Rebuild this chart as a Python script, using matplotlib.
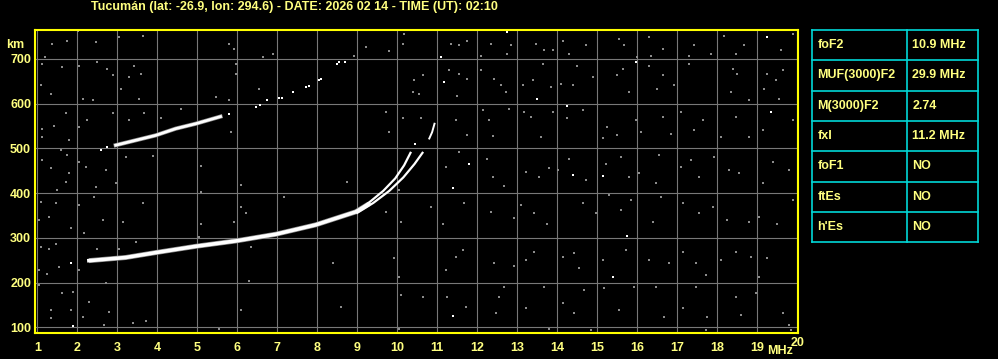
import matplotlib
matplotlib.use("Agg")
import matplotlib.pyplot as plt

plt.rcParams['font.family'] = ['Liberation Sans', 'DejaVu Sans']
plt.rcParams['font.weight'] = 'bold'

TXT = "#ffff80"
BORDER = "#ffff00"
GRID = "#787878"
NOISE = "#8c8c8c"
CYAN = "#00d8d8"

title = "Tucumán (lat: -26.9, lon: 294.6) - DATE: 2026 02 14 - TIME (UT): 02:10"

# ordinary trace (low part + the two branches near the cusp)
f_low = [2.29, 3.21, 3.96, 4.96, 5.96, 6.96, 7.96, 8.96, 9.29]
h_low = [249, 256, 267, 281, 293, 308, 329, 358, 376]
f_br1 = [9.0, 9.35, 9.65, 9.95, 10.17, 10.33]
h_br1 = [358, 383, 405, 433, 462, 490]
f_br2 = [9.0, 9.4, 9.8, 10.15, 10.43, 10.63]
h_br2 = [356, 378, 405, 435, 465, 490]
f_br2_top = [10.8, 10.87, 10.93]
h_br2_top = [522, 536, 555]

# second hop
f_hop = [2.96, 3.46, 3.96, 4.46, 4.96, 5.58]
h_hop = [507, 518, 529, 544, 555, 571]
f_hop_dots = [2.58, 2.75, 5.79, 6.46, 6.56, 6.75, 7.04, 7.12, 7.38, 7.71, 7.8, 8.04, 8.1, 8.5, 8.55, 8.69, 10.43]
h_hop_dots = [497, 502, 576, 592, 596, 607, 612, 613, 626, 638, 640, 653, 656, 689, 692, 694, 509]

# scattered echoes
noise_f = [
    11.33, 11.54, 11.75, 12.08, 12.33, 12.73, 12.83, 13.46, 13.67, 13.88, 14.13, 14.29, 14.71, 15.54, 15.67, 16.0,
    16.29, 16.33, 16.63, 17.42, 17.29, 17.83, 18.17, 18.46, 18.67, 19.58, 19.88,
    11.29, 11.54, 11.75, 11.5, 10.63, 10.53, 12.08, 12.58, 12.42, 12.71, 13.13, 13.38, 13.63, 13.83, 14.08, 14.5,
    14.38, 14.88, 15.5, 15.63, 15.79, 16.29, 16.5, 16.63, 16.92, 17.29, 18.38, 18.5, 18.33, 18.79, 19.25, 19.46,
    19.63, 19.17, 19.54,
    10.58, 11.46, 11.75, 12.13, 12.29, 12.38, 12.79, 13.17, 13.33, 13.58, 13.88, 14.25, 14.63, 15.25, 15.13, 15.5,
    15.96, 16.08, 16.63, 16.83, 17.08, 17.42, 17.63, 18.08, 18.46, 18.79, 19.13, 19.88,
    11.21, 11.54, 12.25, 12.38, 12.67, 13.21, 13.54, 13.79, 14.02, 14.29, 14.71, 15.21, 15.58, 15.79, 16.04, 16.54,
    16.46, 17.08, 17.33, 17.54, 17.92, 18.29, 18.54, 19.38, 19.79, 19.13,
    10.83, 11.13, 11.67, 12.33, 12.92, 13.08, 13.42, 13.75, 14.63, 14.96, 15.29, 15.58, 15.83, 16.38, 16.58, 17.13,
    17.54, 17.88, 18.25, 18.79, 19.04, 19.5, 19.88,
    11.21, 11.46, 11.63, 12.42, 12.92, 13.21, 13.42, 14.13, 14.42, 14.54, 15.13, 15.71, 16.29, 16.79, 17.13, 17.46,
    17.71, 18.08, 18.46, 18.83, 19.04, 19.25,
    10.63, 11.25, 11.71, 12.54, 12.67, 12.46, 13.21, 13.67, 14.13, 14.42, 14.67, 15.17, 15.54, 15.92, 16.46, 16.67,
    17.13, 17.46, 17.75, 18.46, 18.58, 18.96, 19.63, 19.79, 13.79, 14.83, 17.71, 19.83,
    1.38, 1.75, 2.02, 2.46, 3.04, 3.63, 5.79, 5.92, 6.63, 6.88, 9.21, 9.79, 10.13, 10.17, 8.92, 1.19,
    1.13, 1.63, 2.5, 2.75, 2.88, 3.42, 3.58, 2.04, 1.33, 1.08, 3.29, 3.08, 2.38, 2.13, 3.54, 5.96, 5.96, 5.79,
    6.54, 10.42, 10.38,
    1.42, 1.13, 1.71, 2.25, 2.04, 2.88, 3.29, 3.67, 4.08, 4.58, 1.13, 1.79, 5.46, 5.83, 9.71, 9.79, 10.13,
    1.13, 1.58, 1.75, 2.04, 2.21, 1.33, 1.79, 1.71, 2.71, 2.96, 2.46, 1.5, 3.21, 3.88, 5.08, 6.08, 8.75, 10.04,
    1.08, 1.46, 2.04, 2.42, 1.04, 1.29, 1.83, 2.17, 2.63, 3.13, 3.63, 5.08, 5.08, 5.92, 6.08, 6.21, 7.17, 9.71, 10.08,
    1.08, 1.29, 1.46, 1.54, 1.25, 1.04, 2.04, 2.5, 3.04, 3.46, 5.04, 6.33, 6.29, 8.38, 9.92, 10.04,
    1.04, 1.63, 1.88, 2.29, 1.33, 1.83, 2.13, 1.33, 2.71, 2.79, 3.38, 3.71, 6.08, 8.58, 10.08, 2.67, 5.54, 10.04,
]
noise_h = [
    733, 730, 741, 707, 733, 711, 730, 733, 719, 719, 741, 711, 730, 745, 730, 704,
    748, 707, 722, 730, 707, 711, 752, 711, 730, 719, 756,
    674, 667, 655, 618, 663, 622, 674, 641, 655, 626, 641, 652, 689, 637, 644, 685,
    641, 659, 663, 678, 626, 685, 633, 663, 641, 689, 678, 667, 626, 607, 667, 652,
    674, 633, 611,
    567, 563, 529, 585, 563, 527, 589, 581, 570, 526, 581, 567, 585, 548, 522, 529,
    563, 537, 570, 533, 581, 541, 563, 526, 570, 526, 541, 563,
    458, 492, 477, 437, 415, 448, 437, 455, 452, 477, 429, 465, 480, 437, 444, 484,
    422, 458, 473, 437, 480, 451, 444, 470, 451, 422,
    369, 332, 377, 358, 344, 373, 355, 332, 377, 355, 396, 362, 384, 336, 392, 377,
    355, 369, 340, 336, 347, 332, 384,
    228, 258, 273, 243, 236, 250, 269, 258, 265, 232, 250, 273, 250, 243, 269, 243,
    217, 250, 269, 258, 213, 254,
    168, 168, 146, 168, 191, 131, 143, 191, 154, 131, 183, 187, 139, 191, 191, 124,
    143, 191, 124, 168, 128, 176, 131, 105, 96, 95, 94, 95,
    733, 741, 762, 737, 748, 752, 733, 722, 704, 711, 726, 717, 733, 756, 707, 704,
    689, 681, 693, 678, 663, 685, 667, 685, 622, 641, 659, 633, 607, 611, 611, 689, 667, 607,
    633, 652, 626,
    551, 544, 578, 563, 548, 578, 563, 578, 567, 589, 526, 518, 615, 537, 581, 537, 567,
    473, 496, 485, 470, 458, 455, 444, 425, 451, 422, 414, 407, 481, 482, 460, 418, 425, 407,
    380, 377, 373, 392, 340, 347, 321, 310, 340, 336, 377, 403, 332, 336, 369, 355, 392, 358, 336,
    280, 276, 287, 235, 220, 228, 228, 276, 276, 291, 302, 280, 204, 243, 254, 213,
    195, 176, 180, 157, 139, 139, 124, 120, 198, 135, 109, 113, 139, 146, 172, 105, 96, 96,
]
white_f = [11.08, 11.17, 13.48, 12.73, 15.96, 14.23, 19.33, 11.38, 11.78, 14.38, 15.13, 15.73, 15.38, 11.38, 19.23, 1.88, 1.83]
white_h = [704, 648, 611, 761, 693, 594, 581, 411, 465, 440, 439, 303, 213, 125, 748, 104, 243]

table_rows = [("foF2", "10.9 MHz"), ("MUF(3000)F2", "29.9 MHz"), ("M(3000)F2", "2.74"),
              ("fxI", "11.2 MHz"), ("foF1", "NO"), ("ftEs", "NO"), ("h'Es", "NO")]

W, H = 998, 359
fig = plt.figure(figsize=(W / 100, H / 100), dpi=100, facecolor="black")


def px(x0, y0, x1, y1):
    return [x0 / W, 1 - y1 / H, (x1 - x0) / W, (y1 - y0) / H]


ax = fig.add_axes(px(35.3, 30, 798.3, 333.3), facecolor="black")
ax.set_xlim(0.95, 20.025)
ax.set_ylim(86.6, 764.5)
ax.set_xticks(range(1, 21))
ax.set_yticks(range(100, 800, 100))
ax.set_xticklabels([str(i) if i < 20 else "" for i in range(1, 21)])
ax.set_yticklabels(["100", "200", "300", "400", "500", "600", "700"])
ax.grid(True, color=GRID, lw=0.8)
ax.set_axisbelow(True)
ax.tick_params(length=0, colors=TXT, labelsize=9)
ax.tick_params(axis="x", pad=6)
ax.tick_params(axis="y", pad=3)
for s in ax.spines.values():
    s.set_color(BORDER)
    s.set_linewidth(1.5)

ax.plot(noise_f, noise_h, "s", color=NOISE, ms=2.0, mew=0)
ax.plot(white_f, white_h, "s", color="white", ms=2.0, mew=0)

ax.plot(f_low, h_low, color=NOISE, lw=3.6, solid_capstyle="butt")
ax.plot(f_low, h_low, color="white", lw=2.6)
ax.plot(f_br1, h_br1, color="white", lw=1.6)
ax.plot(f_br2, h_br2, color="white", lw=1.6)
ax.plot(f_br2_top, h_br2_top, color="white", lw=1.4)
ax.plot(f_hop, h_hop, color=NOISE, lw=3.0)
ax.plot(f_hop, h_hop, color="white", lw=2.0)
ax.plot(f_hop_dots, h_hop_dots, "s", color="white", ms=2, mew=0)

fig.text(91 / W, 1 - 7 / H, title, color=TXT, fontsize=9, ha="left", va="center")
fig.text(6 / W, 1 - 45 / H, "km", color=TXT, fontsize=9, ha="left", va="center")
fig.text(767 / W, 1 - 351 / H, "MHz", color=TXT, fontsize=9, ha="left", va="center")
fig.text(797.3 / W, 1 - 343.5 / H, "20", color=TXT, fontsize=9, ha="center", va="center")

# parameter table
tab = fig.add_axes(px(812.3, 30, 977.7, 242.3), facecolor="black")
tab.set_xlim(0, 1)
tab.set_ylim(0, 7)
tab.axis("off")
split = (907.3 - 812.3) / (977.7 - 812.3)
for i in range(8):
    tab.plot([0, 1], [i, i], color=CYAN, lw=1.2, clip_on=False)
for x in (0, split, 1):
    tab.plot([x, x], [0, 7], color=CYAN, lw=1.2, clip_on=False)
for i, (name, val) in enumerate(table_rows):
    y = 6.5 - i
    tab.text(0.03, y, name, color=TXT, fontsize=9, ha="left", va="center")
    tab.text(split + 0.03, y, val, color=TXT, fontsize=9, ha="left", va="center")

fig.savefig("out.png", dpi=100, facecolor="black")
